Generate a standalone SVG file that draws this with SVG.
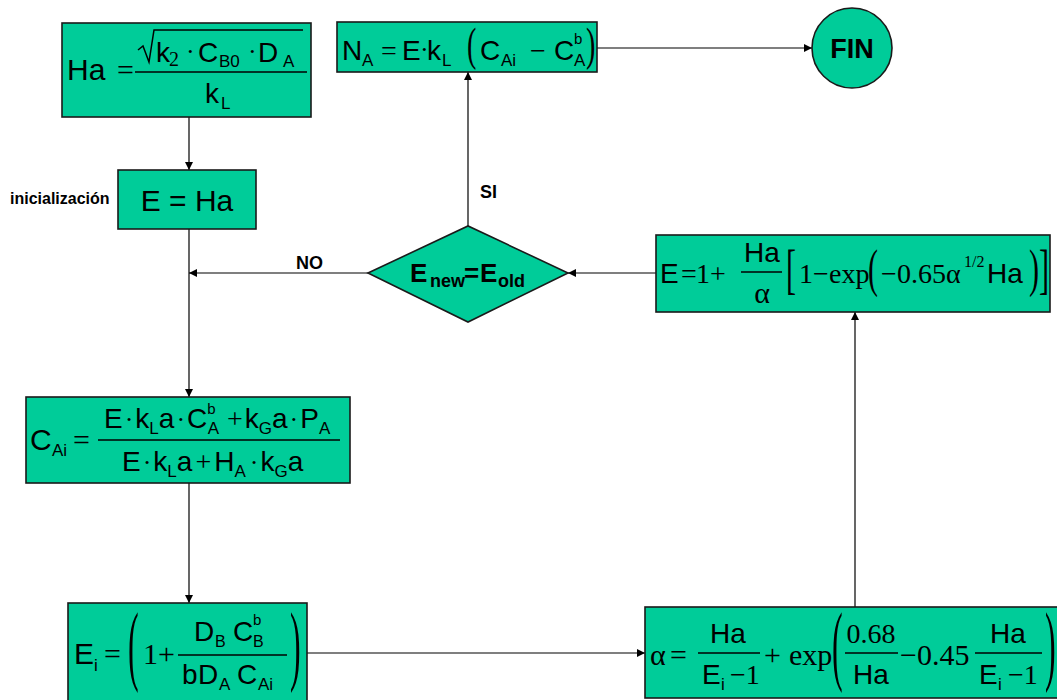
<svg xmlns="http://www.w3.org/2000/svg" width="1057" height="700" viewBox="0 0 1057 700">
<style>
.box{fill:#00CC99;stroke:#1a1a1a;stroke-width:1.6}
.s{font-family:"Liberation Sans",Arial,sans-serif;fill:#000}
.r{font-family:"Liberation Serif","Times New Roman",serif;fill:#000}
.b{font-family:"Liberation Sans",Arial,sans-serif;font-weight:bold;fill:#000}
.bar{stroke:#000;stroke-width:1.5}
.con{stroke:#000;stroke-width:1.2;fill:none}
</style>
<defs>
<marker id="ah" viewBox="0 0 10 10" refX="10" refY="5" markerWidth="8" markerHeight="8" markerUnits="userSpaceOnUse" orient="auto">
<path d="M0,0 L10,5 L0,10 z" fill="#000"/>
</marker>
</defs>
<rect width="1057" height="700" fill="#fff"/>

<g id="connectors">
<line class="con" x1="189" y1="117" x2="189" y2="170" marker-end="url(#ah)"/>
<line class="con" x1="189" y1="229" x2="189" y2="397" marker-end="url(#ah)"/>
<line class="con" x1="368" y1="273" x2="189" y2="273" marker-end="url(#ah)"/>
<line class="con" x1="189" y1="483" x2="189" y2="603" marker-end="url(#ah)"/>
<line class="con" x1="307" y1="653" x2="645" y2="653" marker-end="url(#ah)"/>
<line class="con" x1="855" y1="607" x2="855" y2="312" marker-end="url(#ah)"/>
<line class="con" x1="656" y1="273" x2="568" y2="273" marker-end="url(#ah)"/>
<line class="con" x1="468" y1="226" x2="468" y2="72" marker-end="url(#ah)"/>
<line class="con" x1="597" y1="48" x2="812" y2="48" marker-end="url(#ah)"/>
<text class="b" x="296" y="269" font-size="18">NO</text>
<text class="b" x="480" y="198" font-size="18">SI</text>
</g>

<g id="ha">
<rect class="box" x="62" y="23" width="249" height="94"/>
<text class="s" x="67" y="80" font-size="30">Ha</text>
<text class="r" x="117" y="80" font-size="30">=</text>
<path d="M138,50 L143,46 L149,62 L154,30 L303,30" stroke="#000" stroke-width="1.5" fill="none"/>
<text class="s" x="156" y="62" font-size="28">k</text>
<text class="r" x="169" y="66" font-size="20">2</text>
<text class="r" x="186" y="60" font-size="26">·</text>
<text class="s" x="198" y="62" font-size="28">C</text>
<text class="s" x="219" y="67" font-size="17">B0</text>
<text class="r" x="248" y="60" font-size="26">·</text>
<text class="s" x="258" y="62" font-size="28">D</text>
<text class="s" x="283" y="67" font-size="17">A</text>
<line class="bar" x1="135" y1="72" x2="307" y2="72"/>
<text class="s" x="205" y="103" font-size="28">k</text>
<text class="s" x="221" y="109" font-size="17">L</text>
</g>

<g id="init">
<text class="b" x="10" y="204" font-size="16">inicialización</text>
<rect class="box" x="118" y="170" width="138" height="59"/>
<text class="s" x="187" y="211" font-size="30" text-anchor="middle">E = Ha</text>
</g>

<g id="na">
<rect class="box" x="337" y="22" width="260" height="50"/>
<text class="s" x="342" y="60" font-size="28">N</text>
<text class="s" x="362" y="66" font-size="17">A</text>
<text class="r" x="381" y="60" font-size="28">=</text>
<text class="s" x="402" y="60" font-size="28">E</text>
<text class="r" x="420" y="58" font-size="26">·</text>
<text class="s" x="427" y="60" font-size="28">k</text>
<text class="s" x="442" y="66" font-size="17">L</text>
<text class="r" transform="translate(467,60) scale(1,1.65)" font-size="28">(</text>
<text class="s" x="480" y="60" font-size="28">C</text>
<text class="s" x="501" y="66" font-size="17">Ai</text>
<text class="r" x="530" y="60" font-size="28">−</text>
<text class="s" x="554" y="60" font-size="28">C</text>
<text class="s" x="574" y="44" font-size="15">b</text>
<text class="s" x="574" y="66" font-size="17">A</text>
<text class="r" transform="translate(586,60) scale(1,1.65)" font-size="28">)</text>
</g>

<g id="fin">
<circle cx="852" cy="48" r="40" fill="#00CC99" stroke="#1a1a1a" stroke-width="1.6"/>
<text class="b" x="852" y="58" font-size="27" text-anchor="middle">FIN</text>
</g>

<g id="decision">
<polygon class="box" points="368,273 468,226 568,273 468,322"/>
<text class="b" x="410" y="282" font-size="26">E</text>
<text class="b" x="430" y="287" font-size="18">new</text>
<text class="b" x="464" y="282" font-size="26">=</text>
<text class="b" x="480" y="282" font-size="26">E</text>
<text class="b" x="498" y="287" font-size="18">old</text>
</g>

<g id="eupdate">
<rect class="box" x="656" y="235" width="394" height="77"/>
<text class="s" x="660" y="283" font-size="28">E</text>
<text class="r" x="681" y="283" font-size="28">=</text>
<text class="r" x="696" y="283" font-size="28">1</text>
<text class="r" x="710" y="283" font-size="28">+</text>
<text class="s" x="762" y="262" font-size="28" text-anchor="middle">Ha</text>
<line class="bar" x1="741" y1="272" x2="782" y2="272"/>
<text class="r" x="762" y="303" font-size="30" text-anchor="middle">α</text>
<text class="r" transform="translate(786,288) scale(1,1.85)" font-size="30">[</text>
<text class="r" x="799" y="283" font-size="28">1</text>
<text class="r" x="813" y="283" font-size="28">−</text>
<text class="r" x="829" y="283" font-size="28">exp</text>
<text class="r" transform="translate(868,286) scale(1,1.75)" font-size="30">(</text>
<text class="r" x="881" y="283" font-size="28">−</text>
<text class="r" x="897" y="283" font-size="28">0.65</text>
<text class="r" x="946" y="283" font-size="28">α</text>
<text class="r" x="964" y="267" font-size="16">1/2</text>
<text class="s" x="987" y="283" font-size="28">Ha</text>
<text class="r" transform="translate(1029,286) scale(1,1.75)" font-size="30">)</text>
<text class="r" transform="translate(1039,288) scale(1,1.85)" font-size="30">]</text>
</g>

<g id="cai">
<rect class="box" x="26" y="397" width="324" height="86"/>
<text class="s" x="30" y="450" font-size="30">C</text>
<text class="s" x="52" y="456" font-size="17">Ai</text>
<text class="r" x="73" y="450" font-size="30">=</text>
<line class="bar" x1="98" y1="440" x2="340" y2="440"/>
<text class="s" x="104" y="428" font-size="28">E<tspan class="r" font-size="26" dx="2">·</tspan><tspan dx="2">k</tspan><tspan font-size="17" dy="6">L</tspan><tspan dy="-6">a</tspan><tspan class="r" font-size="26" dx="2">·</tspan><tspan dx="2">C</tspan><tspan font-size="15" dy="-14">b</tspan><tspan font-size="17" dy="20" dx="-8">A</tspan><tspan class="r" dy="-6" dx="8">+</tspan><tspan dx="2">k</tspan><tspan font-size="17" dy="6">G</tspan><tspan dy="-6">a</tspan><tspan class="r" font-size="26" dx="2">·</tspan><tspan dx="2">P</tspan><tspan font-size="17" dy="6">A</tspan></text>
<text class="s" x="122" y="471" font-size="28">E<tspan class="r" font-size="26" dx="2">·</tspan><tspan dx="2">k</tspan><tspan font-size="17" dy="6">L</tspan><tspan dy="-6">a</tspan><tspan class="r" dx="3">+</tspan><tspan dx="3">H</tspan><tspan font-size="17" dy="6">A</tspan><tspan class="r" font-size="26" dy="-6" dx="4">·</tspan><tspan dx="2">k</tspan><tspan font-size="17" dy="6">G</tspan><tspan dy="-6">a</tspan></text>
</g>

<g id="ei">
<rect class="box" x="68" y="603" width="239" height="100"/>
<text class="s" x="74" y="664" font-size="30">E</text>
<text class="s" x="94" y="671" font-size="17">i</text>
<text class="r" x="104" y="664" font-size="30">=</text>
<text class="r" transform="translate(128,674) scale(1,2.8)" font-size="32">(</text>
<text class="r" x="143" y="664" font-size="30">1</text>
<text class="r" x="158" y="664" font-size="30">+</text>
<line class="bar" x1="178" y1="655" x2="287" y2="655"/>
<text class="s" x="194" y="641" font-size="28">D</text>
<text class="s" x="215" y="647" font-size="16">B</text>
<text class="s" x="233" y="641" font-size="28">C</text>
<text class="s" x="253" y="625" font-size="15">b</text>
<text class="s" x="253" y="647" font-size="16">B</text>
<text class="s" x="182" y="684" font-size="28">b</text>
<text class="s" x="198" y="684" font-size="28">D</text>
<text class="s" x="219" y="690" font-size="17">A</text>
<text class="s" x="237" y="684" font-size="28">C</text>
<text class="s" x="258" y="690" font-size="17">Ai</text>
<text class="r" transform="translate(290,674) scale(1,2.8)" font-size="32">)</text>
</g>

<g id="alpha">
<rect class="box" x="645" y="607" width="420" height="91"/>
<text class="r" x="650" y="665" font-size="30">α</text>
<text class="r" x="670" y="665" font-size="30">=</text>
<text class="s" x="728" y="643" font-size="28" text-anchor="middle">Ha</text>
<line class="bar" x1="698" y1="653" x2="760" y2="653"/>
<text class="s" x="702" y="684" font-size="28">E</text>
<text class="s" x="721" y="690" font-size="17">i</text>
<text class="r" x="730" y="684" font-size="28">−1</text>
<text class="r" x="764" y="665" font-size="30">+</text>
<text class="r" x="789" y="665" font-size="30">exp</text>
<text class="r" transform="translate(832,674) scale(1,2.8)" font-size="32">(</text>
<text class="r" x="871" y="643" font-size="28" text-anchor="middle">0.68</text>
<line class="bar" x1="845" y1="653" x2="898" y2="653"/>
<text class="s" x="871" y="684" font-size="28" text-anchor="middle">Ha</text>
<text class="r" x="900" y="665" font-size="30">−0.45</text>
<text class="s" x="1008" y="643" font-size="28" text-anchor="middle">Ha</text>
<line class="bar" x1="975" y1="653" x2="1042" y2="653"/>
<text class="s" x="979" y="684" font-size="28">E</text>
<text class="s" x="998" y="690" font-size="17">i</text>
<text class="r" x="1008" y="684" font-size="28">−1</text>
<text class="r" transform="translate(1045,674) scale(1,2.8)" font-size="32">)</text>
</g>
</svg>
